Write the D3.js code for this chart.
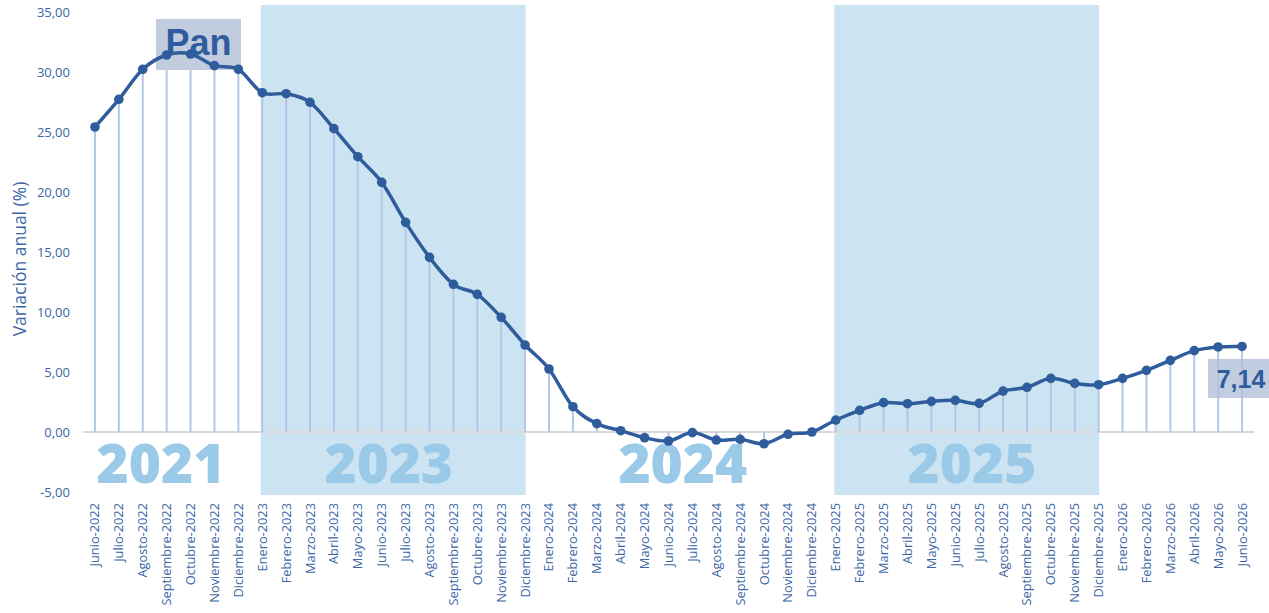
<!DOCTYPE html>
<html>
<head>
<meta charset="utf-8">
<script src="https://cdn.jsdelivr.net/npm/d3@7"></script>
<style>
  html, body { margin: 0; padding: 0; background: #ffffff; }
  svg { display: block; }
</style>
</head>
<body>
<svg id="chart" width="1269" height="613"></svg>
<script>
// ---- data ----
const categories = [
  "Junio-2022","Julio-2022","Agosto-2022","Septiembre-2022","Octubre-2022","Noviembre-2022","Diciembre-2022",
  "Enero-2023","Febrero-2023","Marzo-2023","Abril-2023","Mayo-2023","Junio-2023","Julio-2023","Agosto-2023","Septiembre-2023","Octubre-2023","Noviembre-2023","Diciembre-2023",
  "Enero-2024","Febrero-2024","Marzo-2024","Abril-2024","Mayo-2024","Junio-2024","Julio-2024","Agosto-2024","Septiembre-2024","Octubre-2024","Noviembre-2024","Diciembre-2024",
  "Enero-2025","Febrero-2025","Marzo-2025","Abril-2025","Mayo-2025","Junio-2025","Julio-2025","Agosto-2025","Septiembre-2025","Octubre-2025","Noviembre-2025","Diciembre-2025",
  "Enero-2026","Febrero-2026","Marzo-2026","Abril-2026","Mayo-2026","Junio-2026"
];
const values = [
  25.46, 27.77, 30.28, 31.47, 31.55, 30.58, 30.28,
  28.32, 28.24, 27.52, 25.32, 22.98, 20.84, 17.50, 14.58, 12.33, 11.49, 9.57, 7.26,
  5.26, 2.11, 0.70, 0.11, -0.48, -0.75, -0.05, -0.67, -0.61, -0.98, -0.19, 0.00,
  1.00, 1.81, 2.45, 2.36, 2.56, 2.64, 2.39, 3.42, 3.73, 4.48, 4.06, 3.95,
  4.48, 5.15, 5.98, 6.79, 7.10, 7.14
];
const yTicks = [-5, 0, 5, 10, 15, 20, 25, 30, 35];
const shadedBands = [["Enero-2023", "Diciembre-2023"], ["Enero-2025", "Diciembre-2025"]];
const yearLabels = ["2021", "2023", "2024", "2025"];
const yearAnchors = ["Agosto-2022", "Junio-2023", "Junio-2024", "Junio-2025"];
const titleLabel = "Pan";
const lastLabel = "7,14";
const yTitle = "Variación anual (%)";

// ---- layout ----
const yearOffsets = [0.76, 0.3, 0.6, 0.7]; // in category steps

// ---- chart ----
const svg = d3.select("#chart");
const fmt = d => d.toFixed(2).replace(".", ",");

const xb = d3.scaleBand().domain(categories).range([83, 1254]).padding(0);
const x = c => xb(c) + xb.bandwidth() / 2;
const y = d3.scaleLinear().domain([-5, 35]).range([491.9, 12.7]);

const lineColor = "#2F5C9C";
const dropColor = "#B4C6E7";
const bandColor = "#CCE3F2";
const yearColor = "#9ACAE7";
const labelColor = "#3D66A6";

// shaded year bands
svg.append("g").selectAll("rect").data(shadedBands).join("rect")
  .attr("x", d => x(d[0]) - 1.5)
  .attr("width", d => x(d[1]) - x(d[0]) + 2)
  .attr("y", 5)
  .attr("height", 490)
  .attr("fill", bandColor);

// year labels
svg.append("g").selectAll("text").data(yearLabels).join("text")
  .attr("x", (d, i) => x(yearAnchors[i]) + yearOffsets[i] * xb.step())
  .attr("y", 483)
  .attr("text-anchor", "middle")
  .attr("font-family", "'Open Sans', sans-serif")
  .attr("font-weight", 800)
  .attr("font-size", 55)
  .attr("fill", yearColor)
  .text(d => d);

// axis line at zero
svg.append("line")
  .attr("x1", 83).attr("x2", 1254)
  .attr("y1", y(0)).attr("y2", y(0))
  .attr("stroke", "#D9D9D9").attr("stroke-width", 2);

// drop lines
svg.append("g").selectAll("line").data(values).join("line")
  .attr("x1", (d, i) => x(categories[i]))
  .attr("x2", (d, i) => x(categories[i]))
  .attr("y1", d => y(d))
  .attr("y2", y(0))
  .attr("stroke", dropColor)
  .attr("stroke-width", 2);

// y axis labels
const yAxis = d3.axisLeft(y).tickValues(yTicks).tickFormat(fmt).tickSize(0).tickPadding(0);
const gy = svg.append("g").attr("transform", "translate(70,0)").call(yAxis);
gy.select(".domain").remove();
gy.selectAll("text")
  .attr("font-family", "'Open Sans', sans-serif")
  .attr("font-size", 13)
  .attr("fill", labelColor);

// y title
svg.append("text")
  .attr("transform", "translate(26,259) rotate(-90)")
  .attr("text-anchor", "middle")
  .attr("font-family", "'Open Sans', sans-serif")
  .attr("font-size", 17.5)
  .attr("fill", labelColor)
  .text(yTitle);

// x axis labels
const xAxis = d3.axisBottom(xb).tickSize(0).tickPadding(0);
const gx = svg.append("g").call(xAxis);
gx.select(".domain").remove();
gx.selectAll(".tick").attr("transform", d => `translate(${x(d)},503)`);
gx.selectAll("text")
  .attr("transform", "rotate(-90)")
  .attr("x", 0).attr("y", 0)
  .attr("dy", "0.35em")
  .attr("text-anchor", "end")
  .attr("font-family", "'Open Sans', sans-serif")
  .attr("font-size", 12.8)
  .attr("fill", labelColor);

// Pan box
svg.append("rect")
  .attr("x", 156).attr("y", 19).attr("width", 85).attr("height", 51)
  .attr("fill", "#C1CCDF");

// 7,14 box
svg.append("rect")
  .attr("x", 1208).attr("y", 359).attr("width", 61).attr("height", 39)
  .attr("fill", "#B3C1DA").attr("opacity", 0.8);

// line
const line = d3.line()
  .x((d, i) => x(categories[i]))
  .y(d => y(d))
  .curve(d3.curveCardinal.tension(0));
svg.append("path")
  .datum(values)
  .attr("d", line)
  .attr("fill", "none")
  .attr("stroke", lineColor)
  .attr("stroke-width", 3.5)
  .attr("stroke-linejoin", "round");

// markers
svg.append("g").selectAll("circle").data(values).join("circle")
  .attr("cx", (d, i) => x(categories[i]))
  .attr("cy", d => y(d))
  .attr("r", 4.8)
  .attr("fill", lineColor);

// Pan text
svg.append("text")
  .attr("x", 198.5).attr("y", 55)
  .attr("text-anchor", "middle")
  .attr("font-family", "'Liberation Sans', Arial, sans-serif")
  .attr("font-weight", "bold")
  .attr("font-size", 36)
  .attr("fill", "#2F5C9C")
  .text(titleLabel);

// last value text
svg.append("text")
  .attr("x", 1241).attr("y", 388)
  .attr("text-anchor", "middle")
  .attr("font-family", "'Liberation Sans', Arial, sans-serif")
  .attr("font-weight", "bold")
  .attr("font-size", 25)
  .attr("fill", "#2F5C9C")
  .text(lastLabel);
</script>
</body>
</html>
